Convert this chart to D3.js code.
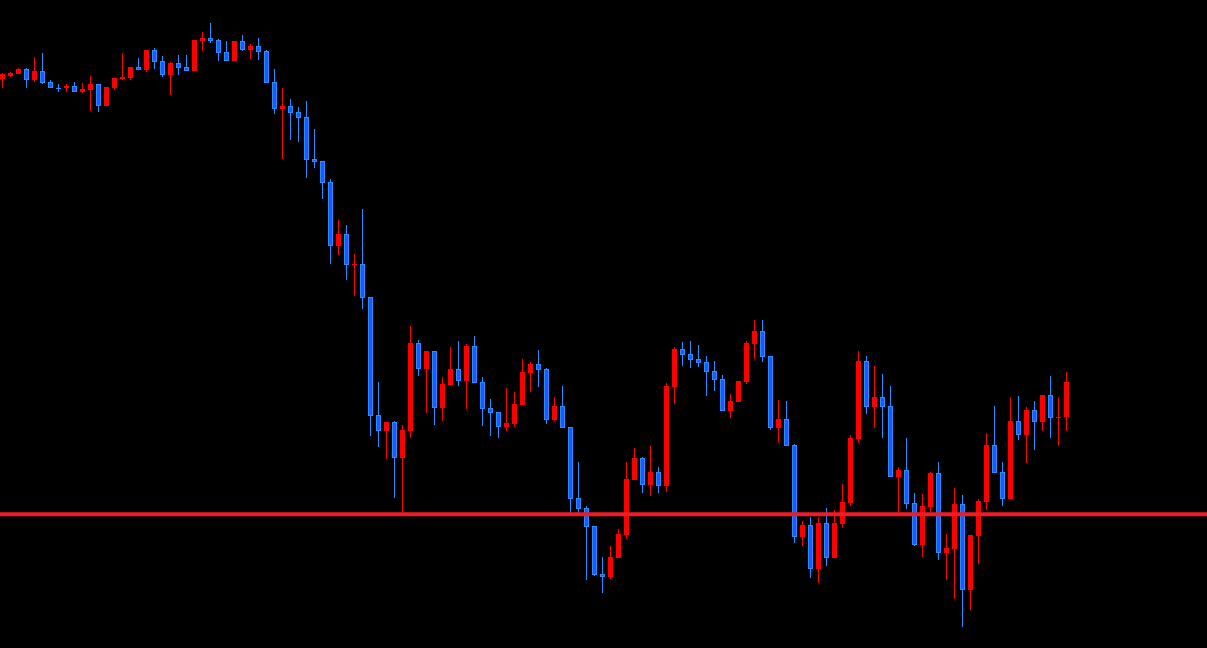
<!DOCTYPE html>
<html>
<head>
<meta charset="utf-8">
<script src="https://cdn.jsdelivr.net/npm/d3@7"></script>
<style>
html,body{margin:0;padding:0;background:#000;overflow:hidden;}
svg{display:block;}
</style>
</head>
<body>
<svg id="chart" width="1207" height="648"></svg>
<script>
const opens = [
142.10,142.43,142.63,143.10,142.03,142.90,141.80,141.25,141.23,141.40,
140.80,141.03,141.60,139.43,141.23,142.10,142.23,143.30,143.03,145.00,
143.90,142.53,143.70,143.30,142.93,145.93,146.20,146.00,144.80,143.93,
145.90,145.00,145.40,144.90,141.80,139.13,139.40,138.80,138.30,134.10,
133.90,131.80,125.43,126.60,123.53,123.60,120.30,108.50,106.93,107.80,
104.23,106.93,115.70,113.13,114.90,109.23,111.50,113.10,111.93,115.40,
111.80,109.20,108.80,107.33,107.63,109.53,112.73,113.60,113.10,108.03,
109.40,107.30,100.20,99.20,97.40,92.60,92.33,94.23,96.53,102.03,
104.20,101.53,102.80,101.43,111.33,115.10,114.60,114.10,113.80,112.90,
112.10,108.93,109.83,111.83,115.63,116.90,114.40,107.23,108.10,105.50,
96.33,97.50,93.13,97.70,94.23,97.63,99.73,106.13,113.90,109.33,
110.30,109.40,102.33,103.00,99.70,95.53,99.33,102.70,94.73,95.13,
99.60,91.03,96.43,99.83,105.50,102.80,100.13,107.90,106.53,109.00,
107.83,110.50,108.23,108.30];
const highs = [
142.67,142.80,143.20,143.20,144.30,144.70,142.00,141.60,141.63,141.80,
141.73,142.40,141.60,141.30,142.20,144.70,143.30,144.23,145.03,145.20,
144.40,143.80,144.50,144.50,146.00,146.83,147.70,146.10,145.90,145.90,
146.50,145.60,146.20,145.00,143.10,141.20,140.10,139.30,139.90,137.10,
133.90,132.10,128.00,127.50,124.63,129.10,120.30,111.80,107.80,107.90,
107.50,117.40,116.00,114.90,114.90,112.30,115.30,115.90,115.60,116.40,
112.30,110.10,108.80,111.20,110.80,114.10,113.80,115.00,113.20,110.30,
111.40,107.30,103.80,99.40,97.40,94.30,95.40,97.10,103.80,105.23,
104.30,105.40,103.30,111.70,115.30,115.80,115.90,115.50,114.40,113.90,
112.50,110.60,111.90,115.90,118.00,118.00,114.40,110.00,109.90,105.60,
97.90,98.30,98.30,99.20,99.00,101.60,106.50,114.90,114.40,113.40,
112.60,111.40,103.30,106.20,100.70,100.60,102.80,103.80,96.60,101.20,
100.50,96.50,100.10,106.70,109.40,103.80,110.30,110.40,109.30,109.90,
110.50,112.40,110.30,112.80];
const lows = [
141.23,142.33,142.63,141.23,141.83,141.63,141.23,140.83,140.83,140.83,
140.70,138.93,138.83,139.43,141.03,142.03,142.03,143.03,142.83,143.13,
142.33,140.53,142.53,142.93,142.93,144.93,145.73,143.93,143.93,143.93,
144.93,144.13,144.03,141.73,138.63,134.13,136.03,135.83,132.23,133.23,
130.13,123.63,124.53,122.03,120.43,119.13,106.43,105.33,104.13,100.23,
98.70,106.23,112.43,108.73,107.53,107.93,111.43,111.43,109.13,111.73,
107.43,106.43,106.23,106.93,107.33,109.53,110.83,111.33,107.63,107.93,
107.23,98.73,98.73,92.03,92.43,90.73,92.13,94.23,96.13,102.03,
100.73,100.43,100.73,100.83,109.63,113.43,113.23,113.33,110.43,110.93,
108.93,108.23,109.83,111.63,114.13,113.83,107.03,105.73,105.43,95.73,
95.43,92.23,91.73,93.43,94.23,97.23,99.43,105.73,108.63,107.23,
106.23,102.33,98.70,99.13,95.43,94.33,98.83,94.03,92.03,90.13,
87.33,89.03,93.63,99.03,102.73,99.43,100.13,106.03,103.73,105.03,
106.93,106.23,105.43,106.93];
const closes = [
142.57,142.73,143.10,142.03,142.90,141.73,141.23,141.21,141.43,140.83,
141.10,141.60,139.43,141.30,142.20,142.30,143.30,143.03,145.03,143.83,
142.53,143.70,143.23,142.93,146.00,146.23,145.93,144.73,143.93,145.90,
145.03,145.40,144.83,141.73,139.13,139.40,138.73,138.23,134.03,133.83,
131.73,125.43,126.60,123.53,123.63,120.23,108.43,106.93,107.80,104.23,
107.03,115.70,113.13,114.90,109.23,111.60,113.10,111.93,115.40,111.73,
109.13,108.73,107.33,107.70,109.60,112.80,113.60,113.03,108.03,109.40,
107.23,100.13,99.13,97.33,92.53,92.33,94.30,96.60,102.10,104.20,
101.53,102.80,101.43,111.40,115.10,114.53,114.03,113.73,112.83,112.03,
108.93,109.93,111.90,115.70,116.90,114.33,107.23,108.10,105.43,96.33,
97.50,93.13,97.70,94.23,97.70,99.80,106.20,113.90,109.33,110.30,
109.33,102.33,103.00,99.63,95.53,99.40,102.70,94.73,95.20,99.60,
91.03,96.50,99.90,105.50,102.73,100.13,107.90,106.53,109.00,107.83,
110.50,108.23,108.30,111.80];
const levelPrice = 98.57;

const W = 1207, H = 648;
const svg = d3.select("#chart");
svg.append("rect").attr("width", W).attr("height", H).attr("fill", "#000");

const data = opens.map((o, i) => ({i, o, h: highs[i], l: lows[i], c: closes[i]}));
const x = d3.scaleLinear().domain([0, data.length - 1]).range([2.5, 2.5 + 8 * (data.length - 1)]);
const y = d3.scaleLinear().domain([85.2, 150]).range([H, 0]);

const bullCol = "#ff0000", bearWick = "#1e90ff", bearFill = "#3050ff";

const g = svg.append("g");
// level line drawn under candles? draw over like reference
const candles = g.selectAll("g.c").data(data).enter().append("g");
candles.append("line")
  .attr("x1", d => x(d.i)).attr("x2", d => x(d.i))
  .attr("y1", d => Math.round(y(d.h))).attr("y2", d => Math.round(y(d.l)))
  .attr("stroke", d => d.c >= d.o ? bullCol : bearWick)
  .attr("stroke-width", 1).attr("shape-rendering", "crispEdges");
candles.append("rect")
  .each(function(d) {
    const top = Math.round(y(Math.max(d.o, d.c)));
    const bot = Math.round(y(Math.min(d.o, d.c)));
    const h = Math.max(1, bot - top);
    const sel = d3.select(this);
    if (d.c >= d.o) {
      sel.attr("x", x(d.i) - 2.5).attr("y", top).attr("width", 5).attr("height", h)
        .attr("fill", bullCol);
    } else {
      sel.attr("x", x(d.i) - 2).attr("y", top + 0.5).attr("width", 4).attr("height", Math.max(0.01, h - 1))
        .attr("fill", bearFill).attr("stroke", bearWick).attr("stroke-width", 1);
    }
  });

svg.append("line")
  .attr("x1", 0).attr("x2", W)
  .attr("y1", y(levelPrice)).attr("y2", y(levelPrice))
  .attr("stroke", "#ee1c25").attr("stroke-width", 4);
</script>
</body>
</html>
